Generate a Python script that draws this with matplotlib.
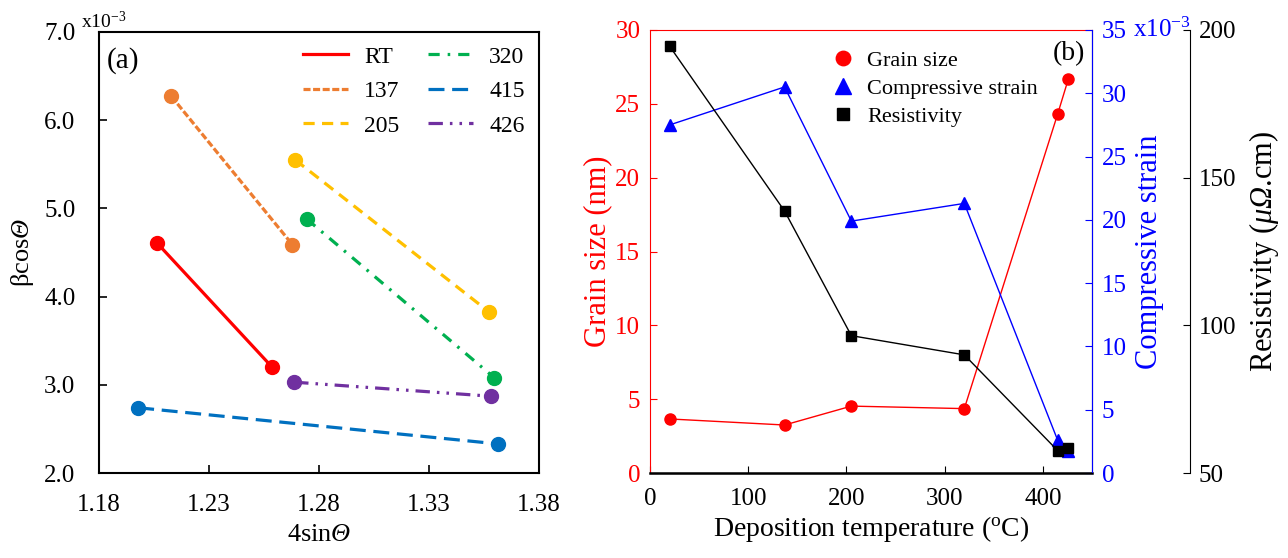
import matplotlib.pyplot as plt

plt.rcParams['font.family'] = ['Liberation Serif', 'DejaVu Serif']
plt.rcParams['mathtext.fontset'] = 'custom'
plt.rcParams['mathtext.rm'] = 'Liberation Serif'
plt.rcParams['mathtext.it'] = 'Liberation Serif:italic'
# mathtext forces Greek capitals upright in \mathit, so map \mathbf to the italic face
plt.rcParams['mathtext.bf'] = 'Liberation Serif:italic'

# (a) Williamson-Hall data, two points per series (x = 4sinθ, y = βcosθ in 1e-3)
wh_labels = ['RT', '137', '205', '320', '415', '426']
wh_x = [[1.2063, 1.2587], [1.2129, 1.2679], [1.2692, 1.3571],
        [1.2744, 1.3597], [1.1978, 1.3613], [1.2687, 1.3584]]
wh_y = [[4.61, 3.20], [6.27, 4.59], [5.55, 3.83],
        [4.88, 3.08], [2.74, 2.33], [3.03, 2.87]]
wh_colors = ['#FF0000', '#ED7D31', '#FFC000', '#00B050', '#0070C0', '#7030A0']
wh_dashes = [None, (2.2, 0.8), (3.5, 2.3), (3.5, 2.5, 0.8, 2.5), (5, 2.4), (4.5, 2.2, 0.8, 2.2, 0.8, 2.2)]

# (b) properties vs deposition temperature
temp = [20, 137, 205, 320, 415, 426]
grain = [3.66, 3.25, 4.53, 4.36, 24.3, 26.7]
strain = [27.5, 30.5, 19.9, 21.3, 2.6, 1.7]
resist = [194.5, 138.7, 96.5, 90.0, 57.6, 58.5]

fig = plt.figure(figsize=(12.88, 5.58), dpi=100)

# ---------- panel (a) ----------
ax = fig.add_axes([99 / 1288, 1 - 473 / 558, 440 / 1288, 441 / 558])
for xs, ys, c, d, lab in zip(wh_x, wh_y, wh_colors, wh_dashes, wh_labels):
    ln, = ax.plot(xs, ys, color=c, lw=2.3, label=lab)
    if d is not None:
        ln.set_dashes(d)
    ax.plot(xs, ys, 'o', color=c, ms=10, zorder=3)
ax.set_xlim(1.18, 1.38)
ax.set_ylim(2.0, 7.0)
ax.set_xticks([1.18, 1.23, 1.28, 1.33, 1.38])
ax.set_yticks([2, 3, 4, 5, 6, 7])
ax.set_yticklabels(['2.0', '3.0', '4.0', '5.0', '6.0', '7.0'])
ax.tick_params(direction='in', labelsize=18, length=6, width=1.2)
ax.tick_params(axis='x', pad=15)
ax.tick_params(axis='y', pad=17)
for s in ax.spines.values():
    s.set_linewidth(1.5)
ax.set_xlabel('4sin$\\mathbf{Θ}$', fontsize=19, labelpad=6)
ax.set_ylabel('βcos$\\mathbf{Θ}$', fontsize=19, labelpad=6)
ax.text(0.018, 0.965, '(a)', transform=ax.transAxes, fontsize=21, va='top', ha='left')
ax.text(-0.04, 1.0, 'x10$^{-3}$', transform=ax.transAxes, fontsize=14, va='bottom', ha='left')
ax.legend(ncol=2, loc='upper right', frameon=False, fontsize=17, handlelength=1.9,
          handletextpad=0.7, columnspacing=1.2, labelspacing=0.55,
          bbox_to_anchor=(1.0, 1.0), borderaxespad=0.2)

# ---------- panel (b) ----------
bx = fig.add_axes([650 / 1288, 1 - 473 / 558, 442 / 1288, 443 / 558])
bx.plot(temp, grain, '-', color='#FF0000', lw=1)
bx.plot(temp, grain, 'o', color='#FF0000', ms=8, label='Grain size', zorder=3)
bx.set_xlim(0, 450)
bx.set_ylim(0, 30)
bx.set_xticks([0, 100, 200, 300, 400])
bx.set_yticks([0, 5, 10, 15, 20, 25, 30])
bx.tick_params(direction='in', labelsize=18, length=5)
bx.tick_params(axis='x', pad=11)
bx.tick_params(axis='y', colors='#FF0000', labelcolor='#FF0000', pad=7)
bx.spines['left'].set_color('#FF0000')
bx.spines['top'].set_color('#FF0000')
bx.spines['bottom'].set_linewidth(1.8)
bx.set_xlabel('Deposition temperature ($^{\\mathrm{o}}$C)', fontsize=20, labelpad=3)
bx.set_ylabel('Grain size (nm)', fontsize=22, color='#FF0000', labelpad=2)
bx.text(0.985, 0.975, '(b)', transform=bx.transAxes, fontsize=20, va='top', ha='right')

cx = bx.twinx()
cx.plot(temp, strain, '-', color='#0000FF', lw=1)
cx.plot(temp, strain, '^', color='#0000FF', ms=9, label='Compressive strain', zorder=3)
cx.set_ylim(0, 35)
cx.set_yticks([0, 5, 10, 15, 20, 25, 30, 35])
cx.tick_params(direction='in', labelsize=18, length=5, colors='#0000FF', pad=7)
cx.spines['right'].set_color('#0000FF')
cx.spines['left'].set_visible(False)
cx.spines['top'].set_visible(False)
cx.set_ylabel('Compressive strain', fontsize=22, color='#0000FF', labelpad=6)
cx.text(1.093, 1.0, 'x10$^{-3}$', transform=cx.transAxes, fontsize=18,
        color='#0000FF', va='center', ha='left')

rx = bx.twinx()
rx.spines['right'].set_position(('axes', 1.222))
rx.plot(temp, resist, '-', color='black', lw=1)
rx.plot(temp, resist, 's', color='black', ms=7, label='Resistivity', zorder=3)
rx.set_ylim(50, 200)
rx.set_yticks([50, 100, 150, 200])
rx.tick_params(direction='in', labelsize=18, length=5, pad=6)
rx.spines['left'].set_visible(False)
rx.spines['top'].set_visible(False)
rx.spines['bottom'].set_visible(False)
rx.set_ylabel('Resistivity ($\\mathbf{μΩ}$.cm)', fontsize=22, labelpad=8)

h = [bx.lines[1], cx.lines[1], rx.lines[1]]
bx.legend(h, [l.get_label() for l in h], loc='upper left', bbox_to_anchor=(0.366, 1.0),
          frameon=False, fontsize=16, handlelength=1.0, handletextpad=0.6,
          labelspacing=0.35, markerscale=1.3)

plt.savefig('out.png', dpi=100)
